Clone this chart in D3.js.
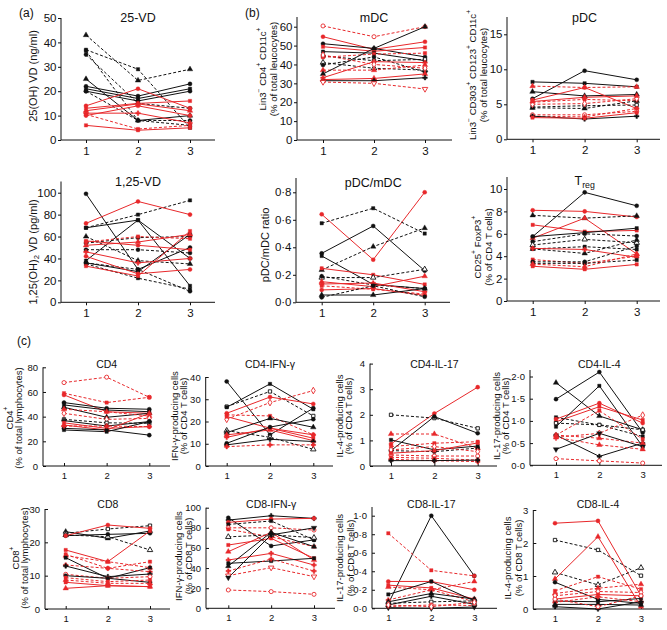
<!DOCTYPE html>
<html><head><meta charset="utf-8">
<script src="https://cdn.jsdelivr.net/npm/d3@7"></script>
<style>body{margin:0;background:#fff} svg{display:block} text{font-family:"Liberation Sans",Arial,Helvetica,sans-serif;fill:#111}</style>
</head><body><svg id="c" width="667" height="630"></svg>
<script>
// ---------------- DATA ----------------
const visits = [1, 2, 3];
// each row: [subject, visit1, visit2, visit3]
const vd25Rows = [[6,43,24.4,29],[5,37,29,5],[5,36.5,8,6],[4,35,15,13],[2,25,8,10],[0,22,18,23],[1,21,17,21],[0,20,16,20],[4,20,8,8],
  [10,14,21,13],[11,13,15,16],[12,12,14.8,12],[13,11,11,7],[10,10,14,10],[11,6,4,5],[15,10.5,4.5,6]];
const vd125Rows = [[0,99,30,50],[1,68,75,40],[5,68,80,93],[6,60,38,35],[4,54,59,60],[4,48,48,45],[1,38,75,15],[0,36,28,62],[5,35,22,12],[4,36,30,10],
  [10,72,92,80],[11,56,52,48],[12,52,55,62],[13,46,36,40],[10,42,26,30],[11,33,24,65],[15,55,60,58]];
const mdcRows = [[14,60.4,54.7,60],[10,54.7,48,52],[0,51,48.5,44],[11,49.4,47,49],[1,46.8,46,42],[7,44.5,42,42.7],[15,43.8,45.5,46],[8,41,38,37],
  [4,39.7,44,36],[16,37,37,39.7],[2,35,48.5,60],[12,32,32.6,35],[3,31.4,31.4,33],[18,30.7,30,27],[13,33,41.5,41],[17,45,40,38]];
const pdcRows = [[0,5.8,9.8,8.5],[1,8.2,8,7.5],[16,7.6,7.4,7.5],[2,6.8,6.2,6.4],[10,5.6,7.4,4.4],[15,5.3,5.7,5.5],[7,4.6,4.8,4.9],[6,4.5,4.4,5.5],
  [17,5,5.1,5.8],[14,3.5,3.5,4],[19,3.3,3.2,4.4],[3,3.3,2.9,3.3],[11,3.1,3,3.8],[12,5.4,6,6.2]];
const ratioRows = [[10,0.64,0.31,0.8],[5,0.575,0.684,0.5],[0,0.356,0.555,0.23],[1,0.337,0.13,0.1],[6,0.235,0.405,0.54],[11,0.247,0.2,0.13],
  [8,0.18,0.18,0.24],[4,0.19,0.126,0.1],[12,0.15,0.114,0.19],[13,0.133,0.14,0.077],[15,0.12,0.095,0.06],[10,0.09,0.1,0.05],[2,0.053,0.053,0.1],[4,0.036,0.12,0.04]];
const tregRows = [[0,5.75,9.7,8.5],[10,8.1,8,7.5],[6,7.65,7.4,7.6],[11,6.8,6.2,6.3],[12,5.6,7.4,4.2],[1,5.75,6.1,6.5],[4,5.3,6,5.8],[8,5,5.5,5.2],
  [5,4.65,4.85,4.6],[6,4.65,4.25,5.45],[13,4.7,4.6,3.9],[15,3.7,3.36,4.0],[4,3.5,3.5,4.9],[5,3.36,3.36,3.66],[11,3.1,2.83,3.27],[16,3.3,3.06,4.2]];
const cd4Rows = [[14,67.6,72,55.7],[15,59,51.4,55.7],[10,57.6,44,42.7],[0,51.4,46.8,46],[1,49.5,45.4,44],[2,47.6,39.5,42.7],[16,46,44,40.5],
  [17,42.7,37.8,38.6],[7,37.8,35,34.6],[3,36.8,32.4,36],[11,35,30.5,31.9],[12,33.2,29.2,42.7],[0,30.5,29.2,25],[1,29.2,27.8,36],[19,32.4,32.4,31.9]];
const cd4IfnRows = [[0,38,14,26],[7,26.7,33.5,22.5],[1,26.4,36.9,25.5],[10,23.7,31,27.9],[17,21,28.5,33.9],[15,23,22.5,14],[11,22.2,17,12.5],
  [8,15.9,12.9,7.5],[2,15,21.4,17.4],[12,14,16.2,11.4],[13,12.9,17,14],[0,10.2,17.5,21],[3,9.5,12,11],[19,8.7,9.5,9.5]];
const cd4Il17Rows = [[10,0.86,2.05,3.08],[7,2.0,1.87,1.47],[0,0.6,1.93,1.28],[16,1.25,1.25,0.69],[1,1.02,0.63,0.78],[15,0.76,0.89,0.95],
  [4,0.6,0.56,0.7],[17,0.63,0.76,0.56],[14,0.43,0.39,0.39],[15,0.34,0.3,0.23],[19,0.26,0.21,0.17],[3,0.21,0.21,0.23],[11,0.5,0.6,0.9]];
const cd4Il4Rows = [[2,1.86,1.11,0.8],[0,1.49,2.1,0.74],[5,1.08,0.91,0.65],[10,1.04,1.4,0.95],[11,0.98,1.32,1.02],[7,0.95,0.91,0.8],
  [1,0.87,1.79,0.42],[15,0.68,1.23,0.59],[17,0.63,0.72,1.13],[3,0.68,0.2,0.5],[16,0.68,0.61,0.5],[9,0.36,0.72,0.42],[16,0.63,0.46,0.36],[14,0.15,0.1,0.05]];
const cd8Rows = [[2,23.2,21.2,23.4],[7,22.7,24,25],[8,22.2,21.7,17.7],[0,22,22.4,22.7],[10,22,25.2,24.2],[11,17.7,14.2,23.4],[15,16.4,12.2,14.2],
  [16,16,14.2,12.4],[1,15.4,9.2,12.4],[19,13.2,12.2,11.2],[3,12.9,9.7,10.5],[14,10.4,9.2,9.7],[0,10,9.2,8],[15,9.4,8.2,8.7],[16,8.7,7.7,7.7],[11,8,7,6.7],[12,6.2,7,6.7]];
const cd8IfnRows = [[0,90,62,68],[3,87.7,92,89.4],[10,85.4,88.7,89.4],[5,83.4,86.8,68],[14,80,80,77.8],[15,78.5,71,61.3],[8,71,73,70.2],
  [11,62.9,69.5,49.7],[12,56.3,75.5,48],[13,48,54.6,43],[1,44.7,47,49.7],[2,42,75.5,61.3],[19,37,49,37],[18,32.5,40.4,31.5],[9,30.5,73,80],[14,18.2,16.6,13.9]];
const cd8Il17Rows = [[0,0.05,1.0,0.35],[15,0.81,0.41,0.35],[10,0.29,0.29,0.2],[16,0.23,0.2,0.29],[11,0.25,0.22,0.1],[1,0.15,0.29,0.08],
  [19,0.09,0.2,0.07],[2,0.07,0.16,0.1],[7,0.054,0.07,0.08],[3,0.036,0.13,0.043],[14,0.018,0.036,0.03],[9,0.007,0,0.014],[17,0.036,0.018,0.065]];
const cd8Il4Rows = [[10,2.6,2.67,0.4],[7,2.09,1.79,1.01],[8,1.11,0.73,1.25],[12,0.91,2.19,0.07],[0,0.81,0.29,0.17],[15,0.55,0.98,0.6],
  [16,0.47,0.63,0.75],[17,0.4,0.53,0.5],[11,0.3,0.44,0.4],[1,0.24,0.22,0.32],[19,0.2,0.37,0.22],[2,0.14,0.14,0.12],[3,0.07,0,0.22],[14,0.3,0.07,0.4]];

// subjects: group
const subjectGroup = ["A","A","A","A","A","A","A","A","A","A","B","B","B","B","B","B","B","B","B","B"];

// tick values
const ticksVd25 = [0,10,20,30,40,50];
const ticksVd125 = [0,20,40,60,80,100];
const ticksMdc = [0,10,20,30,40,50,60];
const ticksPdc = [0,5,10,15];
const ticksRatio = [0,0.2,0.4,0.6,0.8];
const ticksTreg = [0,2,4,6,8,10];
const ticksCd4 = [0,20,40,60,80];
const ticksCd4Ifn = [0,10,20,30,40];
const ticksCd4Il17 = [0,1,2,3,4];
const ticksCd4Il4 = [0,0.5,1.0,1.5,2.0];
const ticksCd8 = [0,10,20,30];
const ticksCd8Ifn = [0,20,40,60,80,100];
const ticksCd8Il17 = [0,0.2,0.4,0.6,0.8,1.0];
const ticksCd8Il4 = [0,1,2,3];

// ---------------- STYLE ----------------
const groupColor = {A:"#111111", B:"#e8282b"};
const subjectDashed = [0,0,0,0,1,1,1,1,1,0, 0,0,0,0,1,1,1,1,1,1];
const subjectMarker = ["circle","square","triangle","plus","circle","square","triangle","square","triangle","down",
                       "circle","square","triangle","plus","circle","square","triangle","diamond","down","plus"];
const subjectOpen = [0,0,0,0,0,0,0,1,1,0, 0,0,0,0,1,0,0,1,1,0];

const svg = d3.select("#c");
const big = {tick:11.5, title:12.5, label:11, label2:9.6, inner:false, pad:1.5};
const small = {tick:9.5, title:10.5, label:9.5, label2:9.5, inner:true, pad:5};

const panels = [
 {rows:vd25Rows, ticks:ticksVd25, dec:0, ax:61, t1:86, t3:190, xEnd:215, y0:140, ref:50, yRef:18, top:18, fs:big,
  title:"25-VD", ty:21.5, labels:["25(OH) VD (ng/ml)"], lx:[33], ly:76},
 {rows:vd125Rows, ticks:ticksVd125, dec:0, ax:61, t1:86, t3:190, xEnd:215, y0:302.3, ref:100, yRef:192.7, top:181.5, fs:big,
  title:"1,25-VD", ty:186, labels:["1,25(OH)_{2} VD (pg/ml)"], lx:[33], ly:252},
 {rows:mdcRows, ticks:ticksMdc, dec:0, ax:297, t1:323, t3:425, xEnd:452, y0:140, ref:60, yRef:26.7, top:17, fs:big,
  title:"mDC", ty:21.5, labels:["Lin3^{−} CD4^{+} CD11c^{+}","(% of total leucocytes)"], lx:[262,273], ly:69},
 {rows:pdcRows, ticks:ticksPdc, dec:0, ax:507, t1:532.5, t3:636.7, xEnd:660, y0:139.3, ref:15, yRef:34.3, top:17, fs:big,
  title:"pDC", ty:22, labels:["Lin3^{−} CD303^{+} CD123^{+} CD11c^{+}","(% of total leucocytes)"], lx:[472,483], ly:75},
 {rows:ratioRows, ticks:ticksRatio, dec:1, ax:296, t1:321.7, t3:424.7, xEnd:450, y0:302.3, ref:0.8, yRef:192.3, top:178, fs:big,
  title:"pDC/mDC", ty:187, labels:["pDC/mDC ratio"], lx:[265], ly:245},
 {rows:tregRows, ticks:ticksTreg, dec:0, ax:507, t1:532.7, t3:636.7, xEnd:660, y0:301, ref:10, yRef:189, top:177, fs:big,
  title:"T_{reg}", ty:185, labels:["CD25^{+} FoxP3^{+}","(% of CD4 T cells)"], lx:[477,488], ly:247},
 {rows:cd4Rows, ticks:ticksCd4, dec:0, ax:43, t1:64, t3:149.3, xEnd:170, y0:466, ref:80, yRef:367.3, top:367.3, fs:small,
  title:"CD4", ty:367.5, labels:["CD4^{+}","(% of total lymphocytes)"], lx:[8.5,17.5], ly:418},
 {rows:cd4IfnRows, ticks:ticksCd4Ifn, dec:0, ax:205.7, t1:226.7, t3:313.3, xEnd:333, y0:466, ref:40, yRef:377, top:377, fs:small,
  title:"CD4-IFN-γ", ty:367.5, labels:["IFN-γ-producing cells","(% of CD4 T cells)"], lx:[174,182.5], ly:416},
 {rows:cd4Il17Rows, ticks:ticksCd4Il17, dec:0, ax:370, t1:391, t3:477.7, xEnd:497, y0:466, ref:4, yRef:363.6, top:363.6, fs:small,
  title:"CD4-IL-17", ty:367.5, labels:["IL-4-producing cells","(% of CD4 T cells)"], lx:[339,348], ly:416},
 {rows:cd4Il4Rows, ticks:ticksCd4Il4, dec:1, ax:530, t1:556, t3:642.7, xEnd:662, y0:465.3, ref:1.5, yRef:398.7, top:370, fs:small,
  title:"CD4-IL-4", ty:367.5, labels:["IL-17-producing cells","(% of CD4 T cells)"], lx:[496,505], ly:416},
 {rows:cd8Rows, ticks:ticksCd8, dec:0, ax:45, t1:65.7, t3:150, xEnd:170, y0:609, ref:30, yRef:509, top:509, fs:small,
  title:"CD8", ty:508, labels:["CD8^{+}","(% of total lymphocytes)"], lx:[15,24], ly:558},
 {rows:cd8IfnRows, ticks:ticksCd8Ifn, dec:0, ax:206, t1:228.3, t3:314, xEnd:335, y0:608.3, ref:100, yRef:507.7, top:507.7, fs:small,
  title:"CD8-IFN-γ", ty:508, labels:["IFN-γ-producing cells","(% of CD8 T cells)"], lx:[178,188], ly:556},
 {rows:cd8Il17Rows, ticks:ticksCd8Il17, dec:1, ax:372, t1:388.3, t3:474.3, xEnd:497, y0:608.3, ref:1.0, yRef:515.7, top:507, fs:small,
  title:"CD8-IL-17", ty:508, labels:["IL-17-producing cells","(% of CD8 T cells)"], lx:[339,350], ly:558},
 {rows:cd8Il4Rows, ticks:ticksCd8Il4, dec:0, ax:533.3, t1:555, t3:641, xEnd:662, y0:609, ref:3, yRef:510, top:510, fs:small,
  title:"CD8-IL-4", ty:508, labels:["IL-4-producing cells","(% of CD8 T cells)"], lx:[507,518], ly:558}
];

// rich text: ^{..} superscript, _{..} subscript
function rich(sel, str){
  const re = /(\^\{[^}]*\}|_\{[^}]*\})/g;
  str.split(re).filter(s=>s.length).forEach(seg=>{
    if(seg.startsWith("^{")) sel.append("tspan").attr("baseline-shift","super").attr("font-size","70%").text(seg.slice(2,-1));
    else if(seg.startsWith("_{")) sel.append("tspan").attr("baseline-shift","-3").attr("font-size","70%").text(seg.slice(2,-1));
    else sel.append("tspan").text(seg);
  });
}

const symMap = {circle:d3.symbolCircle, square:d3.symbolSquare, triangle:d3.symbolTriangle, down:d3.symbolTriangle,
                diamond:d3.symbolDiamond, plus:d3.symbolCross};

panels.forEach(p=>{
  const x = d3.scaleLinear().domain([1,3]).range([p.t1,p.t3]);
  const y = d3.scaleLinear().domain([0,p.ref]).range([p.y0,p.yRef]);
  const g = svg.append("g");
  const fmt = p.dec ? (v=>d3.format(".1f")(v).replace(".","·")) : d3.format("d");
  const ts = p.fs.inner ? -3 : 3;
  // y axis
  const yAxis = d3.axisLeft(y).tickValues(p.ticks).tickSize(ts).tickPadding(p.fs.pad).tickFormat(fmt);
  const ya = g.append("g").attr("transform",`translate(${p.ax},0)`).call(yAxis);
  ya.select(".domain").remove();
  ya.selectAll("text").attr("font-size",p.fs.tick).attr("fill","#111");
  ya.selectAll("line").attr("stroke","#111");
  g.append("line").attr("x1",p.ax).attr("x2",p.ax).attr("y1",p.top).attr("y2",p.y0).attr("stroke","#111");
  // x axis
  const xAxis = d3.axisBottom(x).tickValues(visits).tickSize(ts).tickPadding(p.fs.inner?6:4).tickFormat(d3.format("d"));
  const xa = g.append("g").attr("transform",`translate(0,${p.y0})`).call(xAxis);
  xa.select(".domain").remove();
  xa.selectAll("text").attr("font-size",p.fs.tick).attr("fill","#111");
  xa.selectAll("line").attr("stroke","#111");
  g.append("line").attr("x1",p.ax).attr("x2",p.xEnd).attr("y1",p.y0).attr("y2",p.y0).attr("stroke","#111");
  // title
  const tt = g.append("text").attr("x",x(2)).attr("y",p.ty).attr("text-anchor","middle").attr("font-size",p.fs.title);
  rich(tt,p.title);
  // y labels
  const lfs = p.labels.length>1 ? p.fs.label2 : p.fs.label;
  p.labels.forEach((lab,i)=>{
    const t = g.append("text").attr("transform",`translate(${p.lx[i]},${p.ly}) rotate(-90)`)
      .attr("text-anchor","middle").attr("dominant-baseline","central").attr("font-size",lfs);
    rich(t,lab);
  });
  // lines
  const line = d3.line().x((d,i)=>x(visits[i])).y(d=>y(d));
  const series = g.append("g");
  p.rows.forEach(r=>{
    const s = r[0], vals = r.slice(1), col = groupColor[subjectGroup[s]];
    series.append("path").attr("d",line(vals)).attr("fill","none").attr("stroke",col).attr("stroke-width",1)
      .attr("stroke-dasharray",subjectDashed[s]?"3,2":null);
  });
  p.rows.forEach(r=>{
    const s = r[0], vals = r.slice(1), col = groupColor[subjectGroup[s]];
    const m = subjectMarker[s];
    const sym = d3.symbol().type(symMap[m]).size(m==="plus"?12:m==="square"?11:13);
    vals.forEach((v,i)=>{
      series.append("path").attr("d",sym())
        .attr("transform",`translate(${x(visits[i])},${y(v)})${m==="down"?" rotate(180)":""}`)
        .attr("fill",subjectOpen[s]?"#fff":col).attr("stroke",col).attr("stroke-width",subjectOpen[s]?0.9:0.4);
    });
  });
});

// section letters
[["(a)",19,17],["(b)",245,17],["(c)",17,345]].forEach(([t,xx,yy])=>{
  svg.append("text").attr("x",xx).attr("y",yy).attr("font-size",12).text(t);
});
</script></body></html>
